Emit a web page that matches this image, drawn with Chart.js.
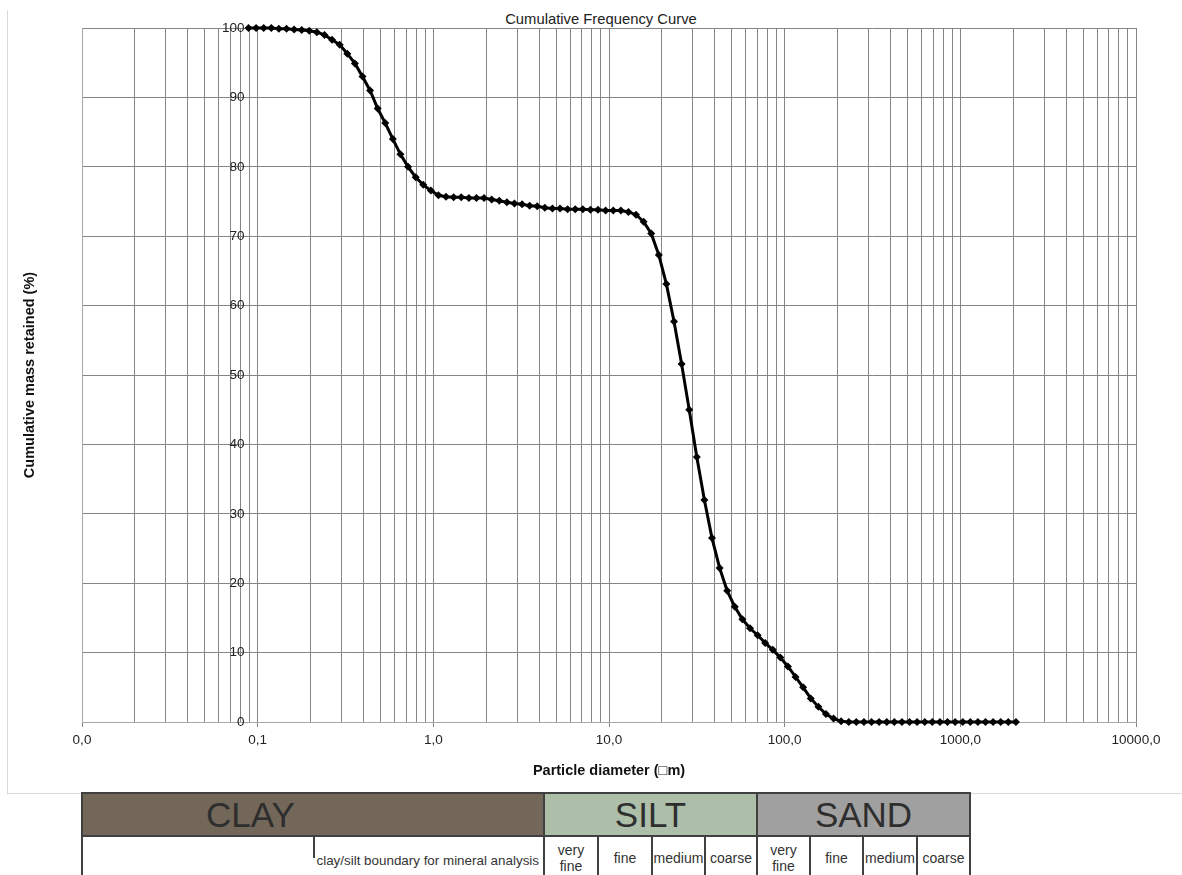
<!DOCTYPE html>
<html><head><meta charset="utf-8">
<script src="https://cdn.jsdelivr.net/npm/chart.js@4.4.0/dist/chart.umd.min.js"></script>
<style>
html,body{margin:0;padding:0;background:#fff;overflow:hidden;width:1182px;height:875px;font-family:"Liberation Sans",Arial,sans-serif;}
#frame{position:absolute;left:7px;top:10px;width:1300px;height:783px;border-left:1px solid #d9d9d9;border-bottom:1px solid #d9d9d9;}
#wrap{position:absolute;left:0;top:0;width:1182px;height:795px;}
#title{position:absolute;top:10px;left:0;width:1202px;text-align:center;font-size:14.8px;color:#222;line-height:18px;}
.cell{position:absolute;box-sizing:border-box;border:2px solid #404040;display:flex;align-items:center;justify-content:center;color:#333;text-align:center;background:#fff;}
.big{font-size:35px;line-height:1;color:#2e2e2e;}
.sm{font-size:14px;line-height:16px;}
</style></head>
<body>
<div id="frame"></div>
<div id="title">Cumulative Frequency Curve</div>
<div id="wrap"><canvas id="c" width="1182" height="795"></canvas></div>

<div class="cell big" style="left:81px;top:792px;width:464px;height:45px;background:#736759;justify-content:flex-start;padding-left:123px;">CLAY</div>
<div class="cell big" style="left:543px;top:792px;width:215px;height:45px;background:#adbfa9;">SILT</div>
<div class="cell big" style="left:756px;top:792px;width:215px;height:45px;background:#a0a0a0;">SAND</div>

<div class="cell sm" style="left:81px;top:835px;width:464px;height:45px;"></div>
<div class="cell sm" style="left:543px;top:835px;width:56px;height:45px;">very<br>fine</div>
<div class="cell sm" style="left:597px;top:835px;width:56px;height:45px;">fine</div>
<div class="cell sm" style="left:651px;top:835px;width:55px;height:45px;">medium</div>
<div class="cell sm" style="left:704px;top:835px;width:54px;height:45px;">coarse</div>
<div class="cell sm" style="left:756px;top:835px;width:55px;height:45px;">very<br>fine</div>
<div class="cell sm" style="left:809px;top:835px;width:55px;height:45px;">fine</div>
<div class="cell sm" style="left:862px;top:835px;width:56px;height:45px;">medium</div>
<div class="cell sm" style="left:916px;top:835px;width:55px;height:45px;">coarse</div>
<div style="position:absolute;left:313px;top:837px;width:1.5px;height:21px;background:#404040;"></div>
<div style="position:absolute;left:200px;top:853px;width:339px;text-align:right;font-size:13.4px;line-height:16px;color:#333;">clay/silt boundary for mineral analysis</div>

<script>
const sizes = [0.0887,0.0980,0.1082,0.1196,0.1321,0.1459,0.1612,0.1781,0.1967,0.2173,
  0.2401,0.2652,0.2930,0.3237,0.3576,0.3950,0.4364,0.4821,0.5326,0.5884,
  0.6500,0.7181,0.7933,0.8763,0.9681,1.069,1.181,1.305,1.442,1.593,
  1.760,1.944,2.148,2.373,2.621,2.896,3.199,3.534,3.904,4.313,
  4.764,5.263,5.814,6.423,7.096,7.839,8.660,9.567,10.57,11.68,
  12.90,14.25,15.74,17.39,19.21,21.22,23.45,25.90,28.62,31.61,
  34.92,38.58,42.62,47.08,52.02,57.46,63.48,70.13,77.47,85.59,
  94.48,104.4,115.3,127.4,140.8,155.5,171.8,189.8,209.6,231.6,
  255.8,282.6,312.2,344.9,381.1,421.0,465.0,513.7,567.5,627.0,
  692.6,765.2,845.3,933.8,1032,1140,1259,1391,1537,1697,
  1875,2072];
const cumulative = [100,100,100,100,99.9,99.9,99.8,99.7,99.6,99.4,
  99.0,98.3,97.6,96.3,94.9,93.0,91.0,88.4,86.3,84.0,
  81.8,80.0,78.5,77.4,76.6,75.9,75.7,75.6,75.6,75.5,
  75.5,75.5,75.3,75.1,74.9,74.7,74.6,74.4,74.3,74.1,
  74.0,74.0,73.9,73.9,73.9,73.8,73.8,73.7,73.7,73.7,
  73.5,73.1,72.1,70.4,67.3,63.1,57.7,51.6,45.0,38.2,
  32.0,26.5,22.2,18.9,16.6,14.8,13.5,12.5,11.4,10.4,
  9.3,8.0,6.5,5.0,3.4,2.2,1.15,0.5,0.1,0,
  0,0,0,0,0,0,0,0,0,0,
  0,0,0,0,0,0,0,0,0,0,
  0,0];
const yTicks = [0,10,20,30,40,50,60,70,80,90,100];
const xGrid = [0.01,0.02,0.03,0.04,0.05,0.06,0.07,0.08,0.09,
  0.1,0.2,0.3,0.4,0.5,0.6,0.7,0.8,0.9,
  1,2,3,4,5,6,7,8,9,
  10,20,30,40,50,60,70,80,90,
  100,200,300,400,500,600,700,800,900,
  1000,2000,3000,4000,5000,6000,7000,8000,9000,
  10000];
const xLabelValues = [0.01,0.1,1,10,100,1000,10000];
const xLabels = ['0,0','0,1','1,0','10,0','100,0','1000,0','10000,0'];

Chart.defaults.font.family = '"Liberation Sans", Arial, sans-serif';
const gridColor = '#858585';

new Chart(document.getElementById('c'), {
  type: 'line',
  data: {
    datasets: [{
      data: sizes.map((s, i) => ({x: s, y: cumulative[i]})),
      borderColor: '#000',
      backgroundColor: '#000',
      borderWidth: 3,
      pointStyle: 'rectRot',
      pointRadius: 4,
      pointBorderWidth: 0,
      pointBackgroundColor: '#000',
      tension: 0,
      fill: false,
      clip: false
    }]
  },
  options: {
    responsive: false,
    animation: false,
    devicePixelRatio: 1,
    layout: {padding: {left: 0, right: 46, top: 28, bottom: 0}},
    plugins: {legend: {display: false}, title: {display: false}, tooltip: {enabled: false}},
    scales: {
      x: {
        type: 'logarithmic', min: 0.01, max: 10000,
        afterBuildTicks: s => { s.ticks = xGrid.map(v => ({value: v})); },
        afterFit: s => { s.height = 73; s.paddingLeft = 0; s.paddingRight = 0; },
        grid: {
          color: gridColor, lineWidth: 1, drawTicks: true, tickLength: 5,
          tickColor: c => (c.tick && xLabelValues.indexOf(c.tick.value) >= 0) ? gridColor : 'rgba(0,0,0,0)'
        },
        border: {display: true, color: '#a8a8a8'},
        ticks: {
          autoSkip: false, maxRotation: 0, minRotation: 0, padding: 5, color: '#222',
          font: {size: 13.5},
          callback: (v) => { const k = xLabelValues.indexOf(v); return k >= 0 ? xLabels[k] : ''; }
        },
        title: {display: true, text: 'Particle diameter (\u25A1m)', font: {size: 14.5, weight: 'bold'}, color: '#111', padding: {top: 0, bottom: 15}}
      },
      y: {
        min: 0, max: 100,
        afterBuildTicks: s => { s.ticks = yTicks.map(v => ({value: v})); },
        afterFit: s => { s.width = 82; s.paddingTop = 0; s.paddingBottom = 0; },
        grid: {color: gridColor, lineWidth: 1, drawTicks: false},
        border: {display: true, color: '#a8a8a8'},
        ticks: {mirror: true, crossAlign: 'far', padding: 140, color: '#222', font: {size: 13.5}},
        title: {display: true, text: 'Cumulative mass retained (%)', font: {size: 14.5, weight: 'bold'}, color: '#111', padding: {top: 21, bottom: 0}}
      }
    }
  }
});
</script>
</body></html>
